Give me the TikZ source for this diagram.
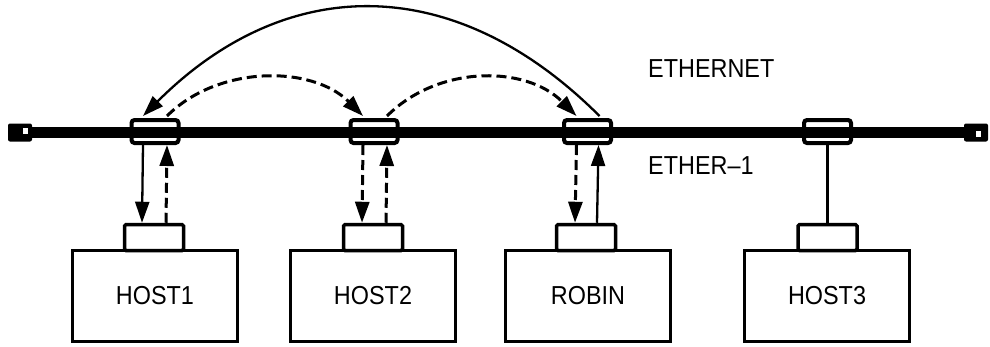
\documentclass[tikz,border=0pt]{standalone}
\usepackage{fontspec}
\setmainfont{Liberation Sans}
\newfontfamily\plotfont[FakeStretch=0.9,Ligatures=TeX]{Liberation Sans}
\usetikzlibrary{arrows.meta}

\tikzset{
  hostbox/.style={draw, line width=3.5pt, minimum width=165pt, minimum height=91pt,
    inner sep=0pt, font=\plotfont\fontsize{26}{30}\selectfont},
  portbox/.style={draw, line width=3.5pt, rounded corners=1.5pt, minimum width=59pt,
    minimum height=26pt, inner sep=0pt},
  tapbox/.style={draw, fill=white, line width=4pt, rounded corners=3pt,
    minimum width=47pt, minimum height=23pt, inner sep=0pt},
  endcap/.style={fill=black, rounded corners=2pt, minimum width=24pt,
    minimum height=18pt, inner sep=0pt},
  capslot/.style={fill=white, minimum width=5pt, minimum height=6pt, inner sep=0pt},
  cable/.style={line width=11pt},
  msg/.style={line width=2.3pt, -{Triangle[length=21pt,width=14pt]}},
  dmsg/.style={msg, line width=3pt, dash pattern=on 10pt off 5pt},
  link/.style={line width=2.3pt},
  netlabel/.style={anchor=base west, inner sep=0pt, font=\plotfont\fontsize{26}{30}\selectfont}
}

\begin{document}
\begin{tikzpicture}[x=1pt, y=-1pt]
  \useasboundingbox (0,0) rectangle (990,346);

  % hosts with their transceiver ports
  \node[hostbox] (host1) at (155,296) {HOST1};
  \node[hostbox] (host2) at (373,296) {HOST2};
  \node[hostbox] (host3) at (588,296) {ROBIN};
  \node[hostbox] (host4) at (827,296) {HOST3};
  \node[portbox] (port1) at (154,237.5) {};
  \node[portbox] (port2) at (373,237.5) {};
  \node[portbox] (port3) at (586,237.5) {};
  \node[portbox] (port4) at (827.5,237.5) {};

  % taps clamped on the coaxial cable
  \node[tapbox] (tap1) at (155,131.5) {};
  \node[tapbox] (tap2) at (374,131.5) {};
  \node[tapbox] (tap3) at (587.5,131.5) {};
  \node[tapbox] (tap4) at (827.5,131.5) {};

  % the cable and its terminators
  \coordinate (lend) at (20,132.5);
  \coordinate (rend) at (976,132.5);
  \draw[cable] (lend) -- (rend);
  \node[endcap] (lcap) at (lend) {};
  \node[endcap] (rcap) at (rend) {};
  \node[capslot] at (25.5,131) {};
  \node[capslot] at (978,133.5) {};

  % labels
  \node[netlabel] (ethernet) at (648,77) {ETHERNET};
  \node[netlabel] (ether1) at (648,174) {ETHER\textendash 1};

  % traffic between taps and hosts
  \draw[msg]  ([xshift=-12pt]tap1.south) -- ([xshift=-12pt]port1.north);
  \draw[dmsg] ([xshift=12pt]port1.north) -- ([xshift=12pt]tap1.south);
  \draw[dmsg] ([xshift=-11pt]tap2.south) -- ([xshift=-11pt]port2.north);
  \draw[dmsg] ([xshift=13pt]port2.north) -- ([xshift=13pt]tap2.south);
  \draw[dmsg] ([xshift=-11pt]tap3.south) -- ([xshift=-11pt]port3.north);
  \draw[msg]  ([xshift=11pt]port3.north) -- ([xshift=11pt]tap3.south);
  \draw[link] (tap4.south) -- (port4.north);

  % traffic along the cable
  \draw[msg] ([xshift=12pt,yshift=2pt]tap3.north)
    .. controls +(-144,-144) and +(144,-144) .. ([xshift=-12pt,yshift=2pt]tap1.north);
  \draw[dmsg] ([xshift=12pt,yshift=2pt]tap1.north)
    .. controls +(51,-51) and +(-51,-51) .. ([xshift=-11pt,yshift=2pt]tap2.north);
  \draw[dmsg] ([xshift=13pt,yshift=2pt]tap2.north)
    .. controls +(51,-51) and +(-51,-51) .. ([xshift=-11pt,yshift=2pt]tap3.north);
\end{tikzpicture}
\end{document}
